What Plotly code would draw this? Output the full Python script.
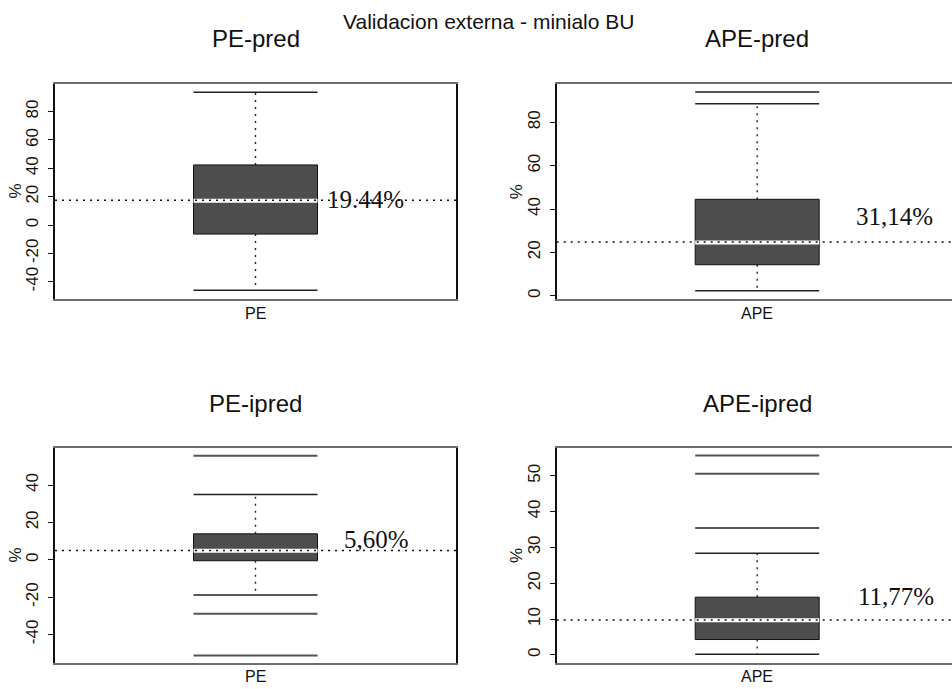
import plotly.graph_objects as go

W, H = 952, 689

# ---- data ----
panel_titles = ["PE-pred", "APE-pred", "PE-ipred", "APE-ipred"]
categories = ["PE", "APE", "PE", "APE"]
lower_whisker = [-46.1, 2.3, -18.9, 0.17]
q1_values = [-6.4, 14.3, -0.5, 4.27]
median_values = [17.2, 24.6, 4.8, 9.65]
q3_values = [42.4, 44.5, 13.9, 16.1]
upper_whisker = [93.7, 88.6, 35.0, 28.4]
outliers = [[], [94.0], [55.7, -28.9, -51.2], [55.7, 50.6, 35.4]]
reference_values = [17.4, 24.8, 5.0, 9.7]
reference_labels = ["19.44%", "31,14%", "5,60%", "11,77%"]
label_y = [18.3, 36.5, 10.6, 16.3]
y_tickvals = [[-40, -20, 0, 20, 40, 60, 80], [0, 20, 40, 60, 80],
              [-40, -20, 0, 20, 40], [0, 10, 20, 30, 40, 50]]
y_ranges = [[-52.2, 99.5], [-1.5, 97.7], [-55.0, 59.7], [-2.15, 57.7]]
main_title = "Validacion externa - minialo BU"

# ---- layout geometry (pixels) ----
def px_x(p):
    return p / W

def px_y(p):
    return 1 - p / H

x_domains = [[px_x(55), px_x(456)], [px_x(556.7), 1.0],
             [px_x(55), px_x(456)], [px_x(556.7), 1.0]]
y_domains = [[px_y(299), px_y(84)], [px_y(299), px_y(84)],
             [px_y(662.5), px_y(448.3)], [px_y(662.5), px_y(448.3)]]
x_ranges = [[0.46, 1.54], [0.46, 1.5247], [0.46, 1.54], [0.46, 1.5247]]
label_x = [1.187, 1.261, 1.232, 1.266]

HALF = 0.167
SANS = "Liberation Sans, Arial, sans-serif"
SERIF = "Liberation Serif, Times New Roman, serif"

fig = go.Figure()
layout = dict(width=W, height=H, margin=dict(l=0, r=0, t=0, b=0),
              paper_bgcolor="white", plot_bgcolor="white", showlegend=False,
              annotations=[])

for i in range(4):
    n = i + 1
    xa = "x" if n == 1 else f"x{n}"
    ya = "y" if n == 1 else f"y{n}"
    xc = 1.0
    # box
    fig.add_trace(go.Bar(x=[xc], y=[q3_values[i] - q1_values[i]], base=[q1_values[i]],
                         width=2 * HALF, marker=dict(color="#4d4d4d",
                         line=dict(color="#111111", width=1)),
                         xaxis=xa, yaxis=ya, hoverinfo="skip"))
    # whiskers (dotted)
    for a, b in [(q3_values[i], upper_whisker[i]), (q1_values[i], lower_whisker[i])]:
        fig.add_trace(go.Scatter(x=[xc, xc], y=[a, b], mode="lines",
                                 line=dict(color="#222222", width=1.4, dash="2px,5px"),
                                 xaxis=xa, yaxis=ya, hoverinfo="skip"))
    # staples
    for v in [upper_whisker[i], lower_whisker[i]]:
        fig.add_trace(go.Scatter(x=[xc - HALF, xc + HALF], y=[v, v], mode="lines",
                                 line=dict(color="#222222", width=1.5),
                                 xaxis=xa, yaxis=ya, hoverinfo="skip"))
    # outliers drawn as lines
    for v in outliers[i]:
        fig.add_trace(go.Scatter(x=[xc - HALF, xc + HALF], y=[v, v], mode="lines",
                                 line=dict(color="#555555", width=2),
                                 xaxis=xa, yaxis=ya, hoverinfo="skip"))
    # median (white)
    fig.add_trace(go.Scatter(x=[xc - HALF, xc + HALF], y=[median_values[i]] * 2,
                             mode="lines", line=dict(color="white", width=4),
                             xaxis=xa, yaxis=ya, hoverinfo="skip"))
    # reference dotted line
    fig.add_trace(go.Scatter(x=x_ranges[i], y=[reference_values[i]] * 2, mode="lines",
                             line=dict(color="#111111", width=1.5, dash="2px,5px"),
                             xaxis=xa, yaxis=ya, hoverinfo="skip", cliponaxis=True))

    right = (i % 2 == 1)
    layout["xaxis" if n == 1 else f"xaxis{n}"] = dict(
        domain=x_domains[i], range=x_ranges[i], anchor=ya, showgrid=False,
        zeroline=False, showticklabels=False, ticks="", showline=True,
        linecolor="#6e6e6e", linewidth=2, mirror=True, fixedrange=True)
    layout["yaxis" if n == 1 else f"yaxis{n}"] = dict(
        domain=y_domains[i], range=y_ranges[i], anchor=xa, showgrid=False,
        zeroline=False, tickvals=y_tickvals[i],
        ticktext=[str(v) for v in y_tickvals[i]],
        ticks="outside", ticklen=5,
        tickcolor="#111111", tickwidth=1, tickangle=-90,
        tickfont=dict(family=SANS, size=17, color="#111111"),
        ticklabelstandoff=3,
        showline=True, linecolor="#111111", linewidth=2,
        mirror=(not right), fixedrange=True)

    # value label
    layout["annotations"].append(dict(
        x=label_x[i], y=label_y[i], xref=xa, yref=ya, text=reference_labels[i],
        showarrow=False, xanchor="left", yanchor="middle",
        font=dict(family=SERIF, size=25, color="#111111")))
    # category label below axis
    xd = x_domains[i]
    left_px = xd[0] * W
    center_px = left_px + (xc - x_ranges[i][0]) * 371.3
    bottom_px = (1 - y_domains[i][0]) * H
    top_px = (1 - y_domains[i][1]) * H
    layout["annotations"].append(dict(
        x=center_px / W, y=px_y(bottom_px + 14), xref="paper", yref="paper",
        text=categories[i], showarrow=False, xanchor="center", yanchor="middle",
        font=dict(family=SANS, size=16, color="#111111")))
    # % y label
    layout["annotations"].append(dict(
        x=(left_px - 40) / W, y=px_y((top_px + bottom_px) / 2), xref="paper",
        yref="paper", text="%", textangle=-90, showarrow=False,
        xanchor="center", yanchor="middle",
        font=dict(family=SANS, size=17, color="#111111")))
    # panel title
    layout["annotations"].append(dict(
        x=center_px / W, y=px_y(top_px - 45), xref="paper", yref="paper",
        text=panel_titles[i], showarrow=False, xanchor="center", yanchor="middle",
        font=dict(family=SANS, size=24, color="#111111")))

layout["annotations"].append(dict(
    x=px_x(489), y=px_y(21), xref="paper", yref="paper", text=main_title,
    showarrow=False, xanchor="center", yanchor="middle",
    font=dict(family=SANS, size=21, color="#111111")))

fig.update_layout(**layout)
fig.write_html("out.html")
